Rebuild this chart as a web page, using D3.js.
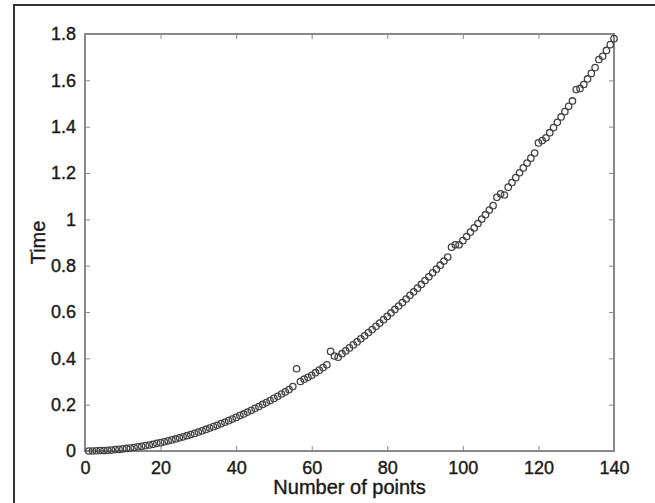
<!DOCTYPE html>
<html lang="en">
<head>
<meta charset="UTF-8">
<title>Time vs number of points</title>
<style>
    body { margin: 0; background: #fff; }
    .tick text { font-family: "Liberation Sans", Arial, sans-serif; font-size: 18px; fill: #1a1a1a; stroke: #1a1a1a; stroke-width: 0.4; }
    .axis-label { font-family: "Liberation Sans", Arial, sans-serif; font-size: 20px; fill: #1a1a1a; stroke: #1a1a1a; stroke-width: 0.4; }
    .pt { fill: none; stroke: #444; stroke-width: 1.3; }
</style>
</head>
<body>
<svg id="chart" width="655" height="503"></svg>
<script src="https://d3js.org/d3.v7.min.js"></script>
<script>
// Data: time for n = 1..140 points
const numPoints = d3.range(1, 141);
const times = [
    0.000, 0.000, 0.001, 0.002, 0.002, 0.003, 0.004, 0.006, 0.007, 0.009,
    0.011, 0.013, 0.015, 0.018, 0.020, 0.023, 0.026, 0.029, 0.033, 0.036,
    0.040, 0.044, 0.048, 0.052, 0.057, 0.061, 0.066, 0.071, 0.076, 0.082,
    0.087, 0.093, 0.099, 0.105, 0.111, 0.118, 0.124, 0.131, 0.138, 0.145,
    0.153, 0.160, 0.168, 0.176, 0.184, 0.192, 0.201, 0.209, 0.218, 0.227,
    0.236, 0.246, 0.255, 0.265, 0.278, 0.355, 0.300, 0.310, 0.318, 0.327,
    0.338, 0.349, 0.360, 0.372, 0.430, 0.410, 0.405, 0.420, 0.432, 0.445,
    0.458, 0.471, 0.484, 0.497, 0.511, 0.524, 0.538, 0.552, 0.567, 0.581,
    0.596, 0.611, 0.626, 0.641, 0.656, 0.672, 0.687, 0.703, 0.719, 0.736,
    0.752, 0.769, 0.785, 0.802, 0.820, 0.837, 0.880, 0.890, 0.890, 0.908,
    0.926, 0.945, 0.963, 0.982, 1.001, 1.020, 1.040, 1.059, 1.095, 1.110,
    1.105, 1.139, 1.159, 1.180, 1.201, 1.222, 1.243, 1.264, 1.286, 1.330,
    1.340, 1.352, 1.374, 1.396, 1.419, 1.442, 1.465, 1.488, 1.511, 1.560,
    1.565, 1.582, 1.606, 1.630, 1.655, 1.690, 1.704, 1.729, 1.754, 1.780
];
const xTicks = [0, 20, 40, 60, 80, 100, 120, 140];
const yTicks = [0, 0.2, 0.4, 0.6, 0.8, 1, 1.2, 1.4, 1.6, 1.8];

const svg = d3.select("#chart");
const plotLeft = 85, plotRight = 614, plotTop = 34, plotBottom = 451;

const x = d3.scaleLinear().domain([0, 140]).range([plotLeft, plotRight]);
const y = d3.scaleLinear().domain([0, 1.8]).range([plotBottom, plotTop]);

// outer frame (runs off the right and bottom edge)
svg.append("rect")
    .attr("x", 14).attr("y", 5)
    .attr("width", 700).attr("height", 600)
    .attr("fill", "none").attr("stroke", "#333").attr("stroke-width", 2);

// axes with inward ticks, MATLAB style
function styleAxis(g) {
    g.select(".domain").remove();
    g.selectAll(".tick line").attr("stroke", "#888").attr("stroke-width", 1);
}

svg.append("g")
    .attr("transform", `translate(0,${plotBottom})`)
    .call(d3.axisBottom(x).tickValues(xTicks).tickSizeInner(-5).tickPadding(10).tickFormat(d3.format("d")))
    .call(styleAxis);

svg.append("g")
    .attr("transform", `translate(0,${plotTop})`)
    .call(d3.axisTop(x).tickValues(xTicks).tickSizeInner(-5).tickFormat(""))
    .call(styleAxis);

svg.append("g")
    .attr("transform", `translate(${plotLeft},0)`)
    .call(d3.axisLeft(y).tickValues(yTicks).tickSizeInner(-5).tickPadding(9).tickFormat(d => d3.format("~g")(d)))
    .call(styleAxis);

svg.append("g")
    .attr("transform", `translate(${plotRight},0)`)
    .call(d3.axisRight(y).tickValues(yTicks).tickSizeInner(-5).tickFormat(""))
    .call(styleAxis);

// plot box
svg.append("rect")
    .attr("x", plotLeft).attr("y", plotTop)
    .attr("width", plotRight - plotLeft).attr("height", plotBottom - plotTop)
    .attr("fill", "none").attr("stroke", "#888").attr("stroke-width", 2);

// data markers
svg.append("g")
    .selectAll("circle")
    .data(numPoints)
    .join("circle")
    .attr("class", "pt")
    .attr("cx", (d) => x(d))
    .attr("cy", (d, i) => y(times[i]))
    .attr("r", 3.2);

// axis labels
svg.append("text")
    .attr("class", "axis-label")
    .attr("x", (plotLeft + plotRight) / 2)
    .attr("y", 494)
    .attr("text-anchor", "middle")
    .text("Number of points");

svg.append("text")
    .attr("class", "axis-label")
    .attr("transform", `translate(45,${(plotTop + plotBottom) / 2}) rotate(-90)`)
    .attr("text-anchor", "middle")
    .text("Time");
</script>
</body>
</html>
